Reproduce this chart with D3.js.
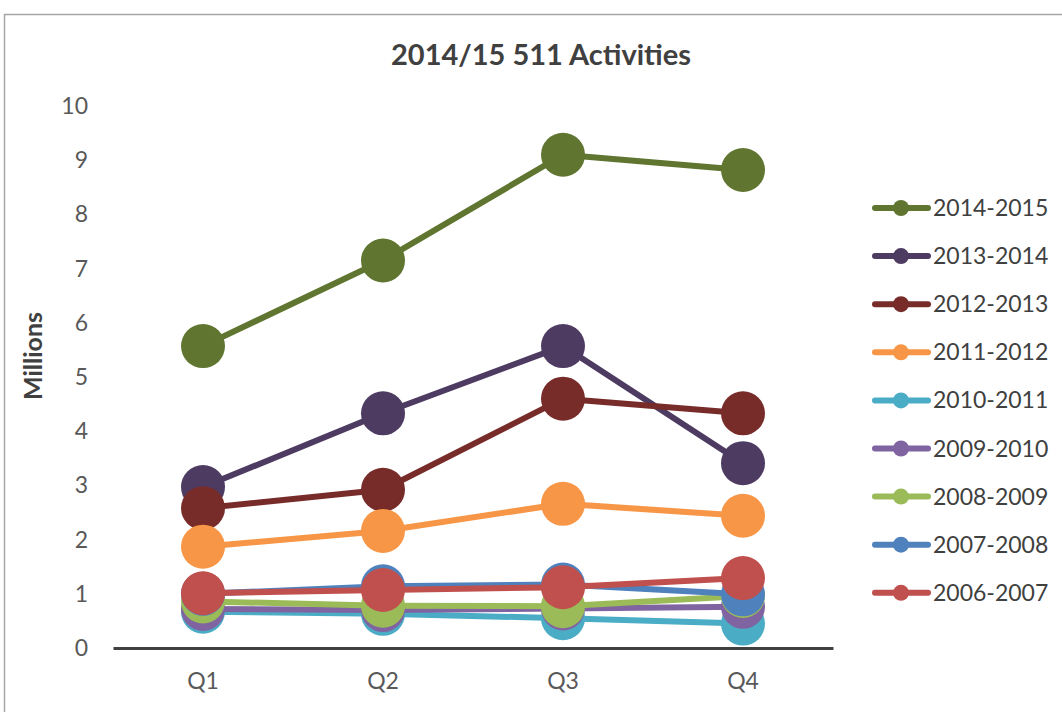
<!DOCTYPE html>
<html>
<head>
<meta charset="utf-8">
<script src="https://cdnjs.cloudflare.com/ajax/libs/d3/7.8.5/d3.min.js"></script>
<style>
  body { margin: 0; background: #fff; }
  svg { display: block; font-family: Lato, "Open Sans", sans-serif; }
</style>
</head>
<body>
<div id="chart"></div>
<script>
// data (millions)
var quarters = ["Q1", "Q2", "Q3", "Q4"];
var seriesNames = ["2014-2015", "2013-2014", "2012-2013", "2011-2012", "2010-2011",
                   "2009-2010", "2008-2009", "2007-2008", "2006-2007"];
var seriesColors = ["#5f7530", "#4d3b62", "#772c2a", "#f79646", "#4bacc6",
                    "#8064a2", "#9bbb59", "#4f81bd", "#c0504d"];
var v2014 = [5.57, 7.15, 9.10, 8.82];
var v2013 = [2.97, 4.33, 5.57, 3.41];
var v2012 = [2.58, 2.92, 4.60, 4.33];
var v2011 = [1.87, 2.16, 2.66, 2.44];
var v2010 = [0.67, 0.63, 0.55, 0.45];
var v2009 = [0.72, 0.70, 0.73, 0.76];
var v2008 = [0.86, 0.78, 0.77, 0.96];
var v2007 = [1.00, 1.14, 1.17, 0.99];
var v2006 = [1.01, 1.07, 1.12, 1.29];
var yTicks = [0, 1, 2, 3, 4, 5, 6, 7, 8, 9, 10];

var allValues = [v2014, v2013, v2012, v2011, v2010, v2009, v2008, v2007, v2006];
var series = seriesNames.map(function(n, i) {
  return { name: n, color: seriesColors[i], values: allValues[i] };
});

var width = 1062, height = 712;
var svg = d3.select("#chart").append("svg")
    .attr("width", width)
    .attr("height", height);

// chart area border
svg.append("rect")
    .attr("x", 4.5).attr("y", 14.5)
    .attr("width", 1070).attr("height", 710)
    .attr("fill", "#fff")
    .attr("stroke", "#a6a6a6")
    .attr("stroke-width", 1.5);

svg.append("text")
    .attr("x", 541).attr("y", 65)
    .attr("text-anchor", "middle")
    .attr("font-size", 29).attr("font-weight", "bold")
    .attr("fill", "#404040")
    .text("2014/15 511 Activities");

var x = d3.scaleBand().domain(quarters).range([113, 833]);
var y = d3.scaleLinear().domain([0, 10]).range([648, 106]);

// y tick labels (no axis line)
svg.append("g").selectAll("text")
    .data(yTicks)
  .enter().append("text")
    .attr("x", 88)
    .attr("y", function(d) { return y(d); })
    .attr("dy", "0.35em")
    .attr("text-anchor", "end")
    .attr("font-size", 23)
    .attr("fill", "#595959")
    .text(function(d) { return d; });

svg.append("text")
    .attr("transform", "translate(42,356) rotate(-90)")
    .attr("text-anchor", "middle")
    .attr("font-size", 25).attr("font-weight", "bold")
    .attr("fill", "#404040")
    .text("Millions");

// x axis
var xAxis = svg.append("g")
    .attr("transform", "translate(0," + y(0) + ")")
    .call(d3.axisBottom(x).tickSize(0).tickPadding(25));
xAxis.select(".domain").attr("stroke", "#404040").attr("stroke-width", 3);
xAxis.selectAll("text")
    .attr("font-size", 23)
    .attr("font-family", "Lato, 'Open Sans', sans-serif")
    .attr("fill", "#595959");

var line = d3.line()
    .x(function(d, i) { return x(quarters[i]) + x.bandwidth() / 2; })
    .y(function(d) { return y(d); });

var plot = svg.append("g");
series.forEach(function(s) {
  var g = plot.append("g");
  g.append("path")
      .datum(s.values)
      .attr("d", line)
      .attr("fill", "none")
      .attr("stroke", s.color)
      .attr("stroke-width", 6)
      .attr("stroke-linejoin", "round");
  g.selectAll("circle")
      .data(s.values)
    .enter().append("circle")
      .attr("cx", function(d, i) { return x(quarters[i]) + x.bandwidth() / 2; })
      .attr("cy", function(d) { return y(d); })
      .attr("r", 22)
      .attr("fill", s.color);
});

// legend
var legend = svg.append("g").selectAll("g")
    .data(series)
  .enter().append("g")
    .attr("transform", function(d, i) { return "translate(0," + (208 + i * 48.1) + ")"; });
legend.append("line")
    .attr("x1", 875).attr("x2", 928)
    .attr("stroke", function(d) { return d.color; })
    .attr("stroke-width", 6)
    .attr("stroke-linecap", "round");
legend.append("circle")
    .attr("cx", 901).attr("r", 8)
    .attr("fill", function(d) { return d.color; });
legend.append("text")
    .attr("x", 933)
    .attr("dy", "0.35em")
    .attr("font-size", 23)
    .attr("fill", "#404040")
    .text(function(d) { return d.name; });
</script>
</body>
</html>
